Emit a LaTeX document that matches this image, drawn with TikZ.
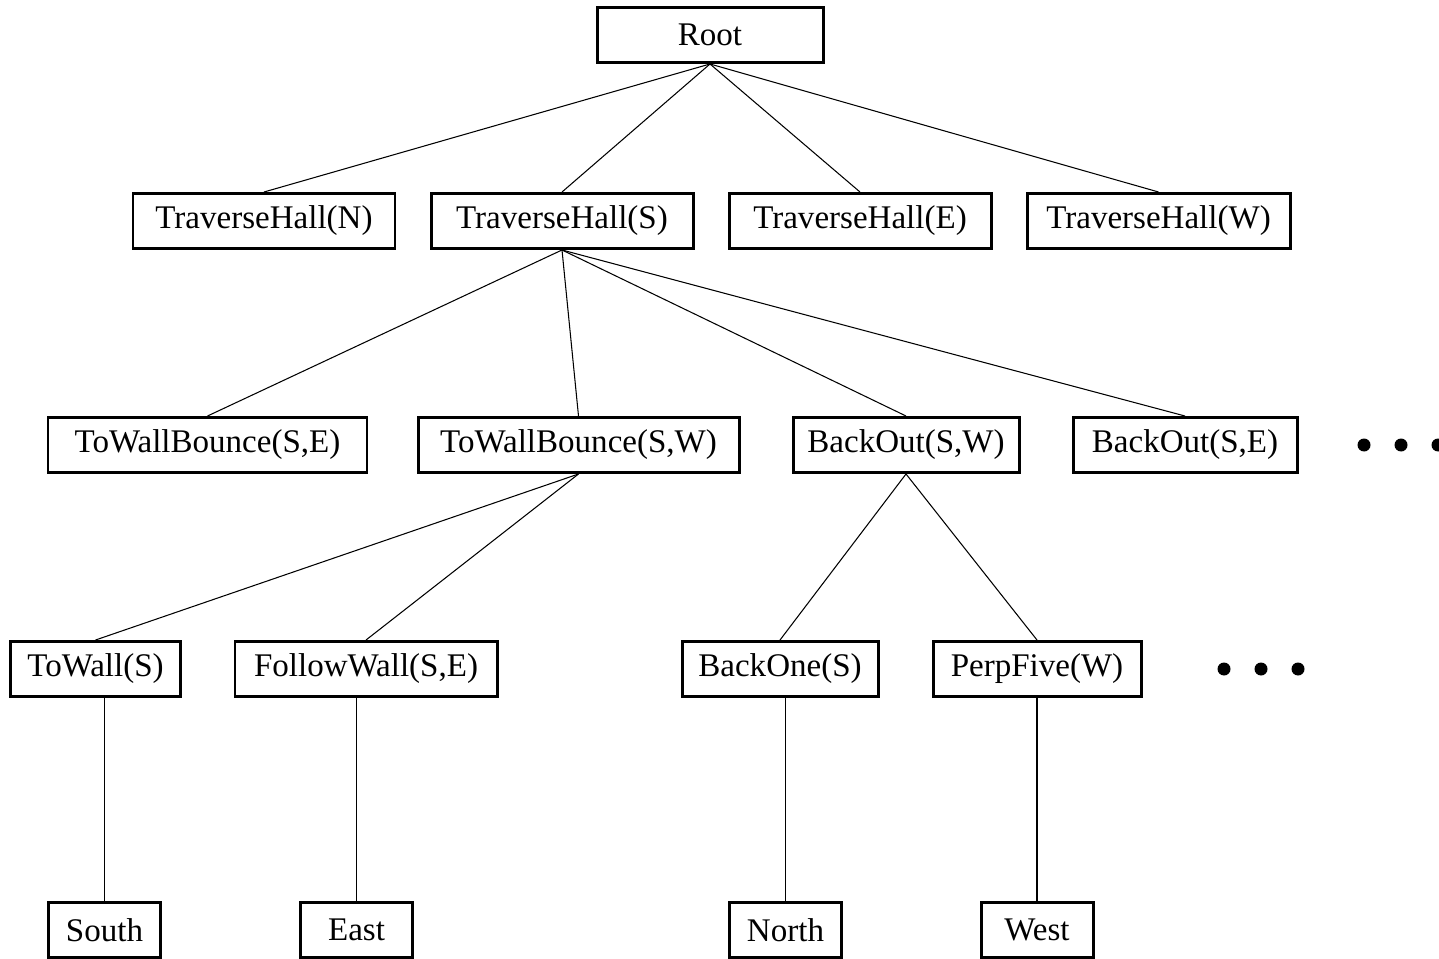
\documentclass[tikz,border=0pt]{standalone}
\usepackage{fontspec}
\setmainfont{Liberation Serif}

\tikzset{
  box/.style={draw, line width=1.7pt, inner xsep=0.1cm, minimum height=1.1cm,
              minimum width=#1*0.02cm, font=\fontsize{18.8}{22}\selectfont},
  box/.default=262,
  link/.style={line width=0.6pt},
}

\begin{document}
\begin{tikzpicture}[x=0.02cm, y=-0.02cm]
\useasboundingbox (0,0) rectangle (1439,959);

% root
\node[box=226] (root) at (710,35) {Root};

% halls
\node[box] (hallN) at (264,221) {TraverseHall(N)};
\node[box] (hallS) at (562,221) {TraverseHall(S)};
\node[box] (hallE) at (860,221) {TraverseHall(E)};
\node[box=263] (hallW) at (1158.5,221) {TraverseHall(W)};

% under TraverseHall(S)
\node[box=319] (bounceSE) at (207.5,445) {ToWallBounce(S,E)};
\node[box=321] (bounceSW) at (578.5,445) {ToWallBounce(S,W)};
\node[box=226] (backSW) at (906,445) {BackOut(S,W)};
\node[box=224] (backSE) at (1185,445) {BackOut(S,E)};

% third row
\node[box=170] (toWall) at (95.5,669) {ToWall(S)};
\node[box] (follow) at (366,669) {FollowWall(S,E)};
\node[box=196] (backOne) at (780,669) {BackOne(S)};
\node[box=208] (perp) at (1037,669) {PerpFive(W)};

% leaves
\node[box=112] (south) at (104.5,930) {South};
\node[box=112] (east) at (356.5,930) {East};
\node[box=112] (north) at (785.5,930) {North};
\node[box=112] (west) at (1037,930) {West};

% edges
\foreach \c in {hallN,hallS,hallE,hallW}
  \draw[link] (root.south) -- (\c.north);
\foreach \c in {bounceSE,bounceSW,backSW,backSE}
  \draw[link] (hallS.south) -- (\c.north);
\foreach \c in {toWall,follow}
  \draw[link] (bounceSW.south) -- (\c.north);
\foreach \c in {backOne,perp}
  \draw[link] (backSW.south) -- (\c.north);

\draw[link] (south |- toWall.south) -- (south.north);
\draw[link] (east |- follow.south) -- (east.north);
\draw[link] (north |- backOne.south) -- (north.north);
\draw[link] (west |- perp.south) -- (west.north);

% more
\foreach \x in {1364,1401,1438}
  \fill (\x,445) circle (6.5);
\foreach \x in {1224,1261,1298}
  \fill (\x,669) circle (6.5);

\end{tikzpicture}
\end{document}
